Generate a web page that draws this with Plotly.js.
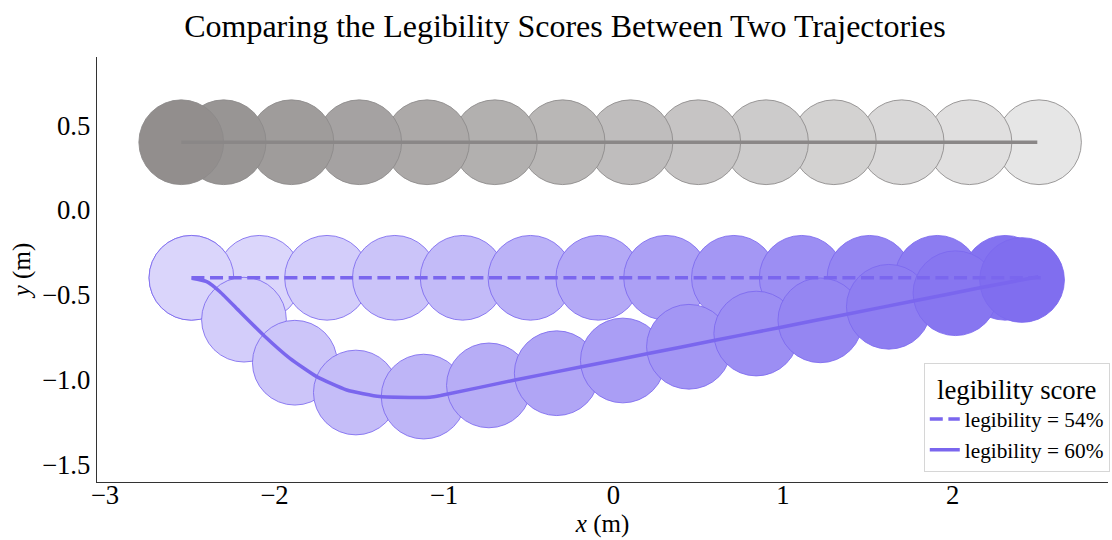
<!DOCTYPE html>
<html>
<head>
<meta charset="utf-8">
<script src="https://cdn.plot.ly/plotly-3.0.1.min.js"></script>
<style>html,body{margin:0;padding:0;background:#fff;}#chart{width:1112px;height:540px;}</style>
</head>
<body>
<div id="chart"></div>
<script>
// Gray trajectory (sampled positions)
const grayX = [-2.55, -2.30, -1.90, -1.50, -1.10, -0.70, -0.30, 0.10, 0.50, 0.90, 1.30, 1.70, 2.10, 2.51];
const grayY = [0.40, 0.40, 0.40, 0.40, 0.40, 0.40, 0.40, 0.40, 0.40, 0.40, 0.40, 0.40, 0.40, 0.40];
const grayLineX = [-2.55, 2.50];
const grayLineY = [0.40, 0.40];

// Purple trajectory 1 (legibility = 54%, dashed)
const dashX = [-2.49, -2.09, -1.69, -1.29, -0.89, -0.49, -0.09, 0.31, 0.71, 1.11, 1.51, 1.91, 2.31];
const dashY = [-0.40, -0.40, -0.40, -0.40, -0.40, -0.40, -0.40, -0.40, -0.40, -0.40, -0.40, -0.40, -0.40];
const dashLineX = [-2.49, 2.52];
const dashLineY = [-0.40, -0.40];

// Purple trajectory 2 (legibility = 60%, solid)
const solidX = [-2.49, -2.18, -1.88, -1.52, -1.12, -0.735, -0.335, 0.055, 0.445, 0.842, 1.22, 1.624, 2.017, 2.41];
const solidY = [-0.40, -0.647, -0.901, -1.077, -1.101, -1.035, -0.963, -0.888, -0.807, -0.729, -0.651, -0.571, -0.491, -0.413];
const solidLineX = [-2.488, -2.40, -2.322, -2.204, -2.066, -1.909, -1.751, -1.574, -1.378, -1.20, -1.083, -1.02, -0.581, -0.188, 0.205, 0.599, 0.982, 1.376, 1.769, 2.162, 2.506];
const solidLineY = [-0.403, -0.423, -0.482, -0.600, -0.737, -0.875, -0.983, -1.062, -1.101, -1.106, -1.105, -1.095, -1.003, -0.925, -0.847, -0.769, -0.693, -0.615, -0.537, -0.459, -0.394];

const radius = 0.25;
const seriesNames = ["legibility = 54%", "legibility = 60%"];
const xTicks = [-3, -2, -1, 0, 1, 2];
const yTicks = [-1.5, -1.0, -0.5, 0.0, 0.5];

function lerpColor(c0, c1, t) {
  const r = Math.round(c0[0] + (c1[0] - c0[0]) * t);
  const g = Math.round(c0[1] + (c1[1] - c0[1]) * t);
  const b = Math.round(c0[2] + (c1[2] - c0[2]) * t);
  return `rgb(${r},${g},${b})`;
}

const shapes = [];
function addCircles(xs, ys, c0, c1, edge, reverse) {
  const n = xs.length;
  const idx = [...Array(n).keys()];
  if (reverse) idx.reverse();
  idx.forEach(i => {
    const t = n > 1 ? i / (n - 1) : 0;
    shapes.push({
      type: 'circle', xref: 'x', yref: 'y', layer: 'below',
      x0: xs[i] - radius, x1: xs[i] + radius,
      y0: ys[i] - radius, y1: ys[i] + radius,
      fillcolor: lerpColor(c0, c1, t),
      line: {color: edge, width: 1}
    });
  });
}
addCircles(grayX, grayY, [146, 142, 141], [230, 230, 230], 'rgba(140,137,137,0.85)', true);
addCircles(dashX, dashY, [227, 223, 252], [132, 115, 240], 'rgba(123,104,238,0.85)', false);
addCircles(solidX, solidY, [218, 213, 251], [128, 110, 239], 'rgba(123,104,238,0.85)', false);

const purple = '#7a66ee';
const traces = [
  {x: grayLineX, y: grayLineY, mode: 'lines', line: {color: '#8a8787', width: 3.5}, showlegend: false, hoverinfo: 'skip'},
  {x: dashLineX, y: dashLineY, mode: 'lines', name: seriesNames[0], line: {color: purple, width: 3.5, dash: '13px,5.6px'}},
  {x: solidLineX, y: solidLineY, mode: 'lines', name: seriesNames[1], line: {color: purple, width: 3.5, shape: 'spline', smoothing: 0.5}}
];

const serif = 'Liberation Serif, Times New Roman, serif';
const layout = {
  width: 1112, height: 540,
  margin: {l: 97, r: 4, t: 57, b: 58, autoexpand: false},
  paper_bgcolor: '#fff', plot_bgcolor: '#fff',
  font: {family: serif, color: '#000', size: 26.7},
  title: {text: 'Comparing the Legibility Scores Between Two Trajectories', font: {family: serif, size: 32, color: '#000'},
          x: 0.508, xanchor: 'center', y: 0.952, yanchor: 'middle', xref: 'container', yref: 'container'},
  xaxis: {
    range: [-3.047, 2.917], showgrid: false, zeroline: false,
    showline: true, linecolor: '#333', linewidth: 1.3, ticks: '', ticklen: 0,
    ticklabelstandoff: -11,
    tickvals: xTicks, ticktext: xTicks.map(v => v < 0 ? '\u2212' + Math.abs(v) : String(v)),
    tickfont: {size: 26.7, family: serif},
    title: {text: '<i>x</i> (m)', font: {size: 25, family: serif}, standoff: 0}
  },
  yaxis: {
    range: [-1.605, 0.903], showgrid: false, zeroline: false,
    showline: true, linecolor: '#333', linewidth: 1.3, ticks: '', ticklen: 0,
    tickvals: yTicks, ticktext: yTicks.map(v => (v < 0 ? '\u2212' : '') + Math.abs(v).toFixed(1)),
    tickfont: {size: 26.7, family: serif},
    title: {text: '<i>y</i> (m)', font: {size: 25, family: serif}, standoff: 4}
  },
  shapes: shapes,
  showlegend: true,
  legend: {
    xref: 'container', yref: 'container',
    x: 0.998, y: 0.126, xanchor: 'right', yanchor: 'bottom',
    bgcolor: 'rgba(255,255,255,0.85)', bordercolor: '#d6d6d6', borderwidth: 1,
    font: {size: 21.3, family: serif, color: '#000'},
    title: {text: 'legibility score', side: 'top center', font: {size: 26.7, family: serif}},
    tracegroupgap: 0, itemwidth: 30
  }
};

Plotly.newPlot('chart', traces, layout, {displayModeBar: false, staticPlot: true});
</script>
</body>
</html>
